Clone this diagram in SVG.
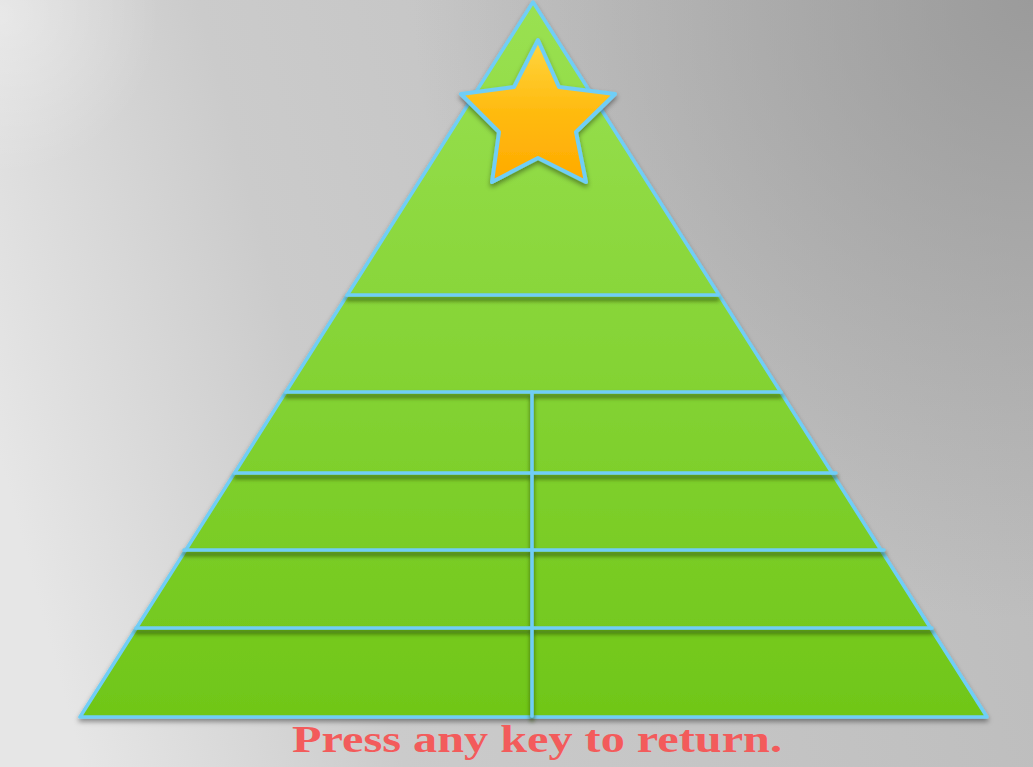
<svg xmlns="http://www.w3.org/2000/svg" width="1033" height="767" viewBox="0 0 1033 767">
<defs>
<linearGradient id="bg" x1="0" y1="0.6" x2="1" y2="0.4">
<stop offset="0" stop-color="#e6e6e6"/>
<stop offset="0.3" stop-color="#cbcbcb"/>
<stop offset="1" stop-color="#bcbcbc"/>
</linearGradient>
<radialGradient id="dark" cx="1033" cy="0" r="620" gradientUnits="userSpaceOnUse">
<stop offset="0" stop-color="#909090" stop-opacity="0.75"/>
<stop offset="1" stop-color="#909090" stop-opacity="0"/>
</radialGradient>
<radialGradient id="sheen" cx="0" cy="15" r="160" gradientUnits="userSpaceOnUse">
<stop offset="0" stop-color="#ffffff" stop-opacity="0.35"/>
<stop offset="1" stop-color="#ffffff" stop-opacity="0"/>
</radialGradient>
<linearGradient id="tree" x1="0" y1="0" x2="0" y2="1">
<stop offset="0" stop-color="#9ae152"/>
<stop offset="1" stop-color="#70c618"/>
</linearGradient>
<linearGradient id="star" x1="0" y1="0" x2="0" y2="1">
<stop offset="0" stop-color="#ffd640"/>
<stop offset="0.5" stop-color="#ffbb10"/>
<stop offset="1" stop-color="#ffaa00"/>
</linearGradient>
<filter id="sh" filterUnits="userSpaceOnUse" x="0" y="0" width="1033" height="767">
<feDropShadow dx="0" dy="4" stdDeviation="2" flood-color="#2a4a10" flood-opacity="0.8"/>
</filter>
<filter id="sh2" x="-20%" y="-20%" width="140%" height="140%">
<feDropShadow dx="0" dy="3" stdDeviation="2.5" flood-color="#000" flood-opacity="0.4"/>
</filter>
</defs>
<style>
.edge{stroke:#70cef6;stroke-width:3.5;fill:none;stroke-linecap:round}
.lbl{font-family:"Liberation Serif","DejaVu Serif",serif;font-weight:bold;font-size:37px;fill:#f35b5b}
</style>
<rect width="1033" height="767" fill="url(#bg)"/>
<rect width="1033" height="767" fill="url(#dark)"/>
<rect width="1033" height="767" fill="url(#sheen)"/>
<g id="tree-body" filter="url(#sh2)">
<polygon points="533,2 80,717 987,717" fill="url(#tree)" stroke="#70cef6" stroke-width="3.5" stroke-linejoin="round"/>
</g>
<g id="connectors" filter="url(#sh)">
<line class="edge" x1="347" y1="295" x2="718" y2="295"/>
<line class="edge" x1="286" y1="392" x2="781" y2="392"/>
<line class="edge" x1="235" y1="473" x2="836" y2="473"/>
<line class="edge" x1="184" y1="550" x2="884" y2="550"/>
<line class="edge" x1="136" y1="628" x2="932" y2="628"/>
<line class="edge" x1="532" y1="392" x2="532" y2="716"/>
</g>
<g id="star-node" filter="url(#sh2)">
<polygon points="538,40 559,87 615,94 576,132 586,182 538,158 492,182 499,132 461,94 514,87" fill="url(#star)" stroke="#70cef6" stroke-width="4" stroke-linejoin="round"/>
</g>
<g id="label">
<text class="lbl" x="537" y="752" text-anchor="middle" textLength="490" lengthAdjust="spacingAndGlyphs">Press any key to return.</text>
</g>
</svg>
